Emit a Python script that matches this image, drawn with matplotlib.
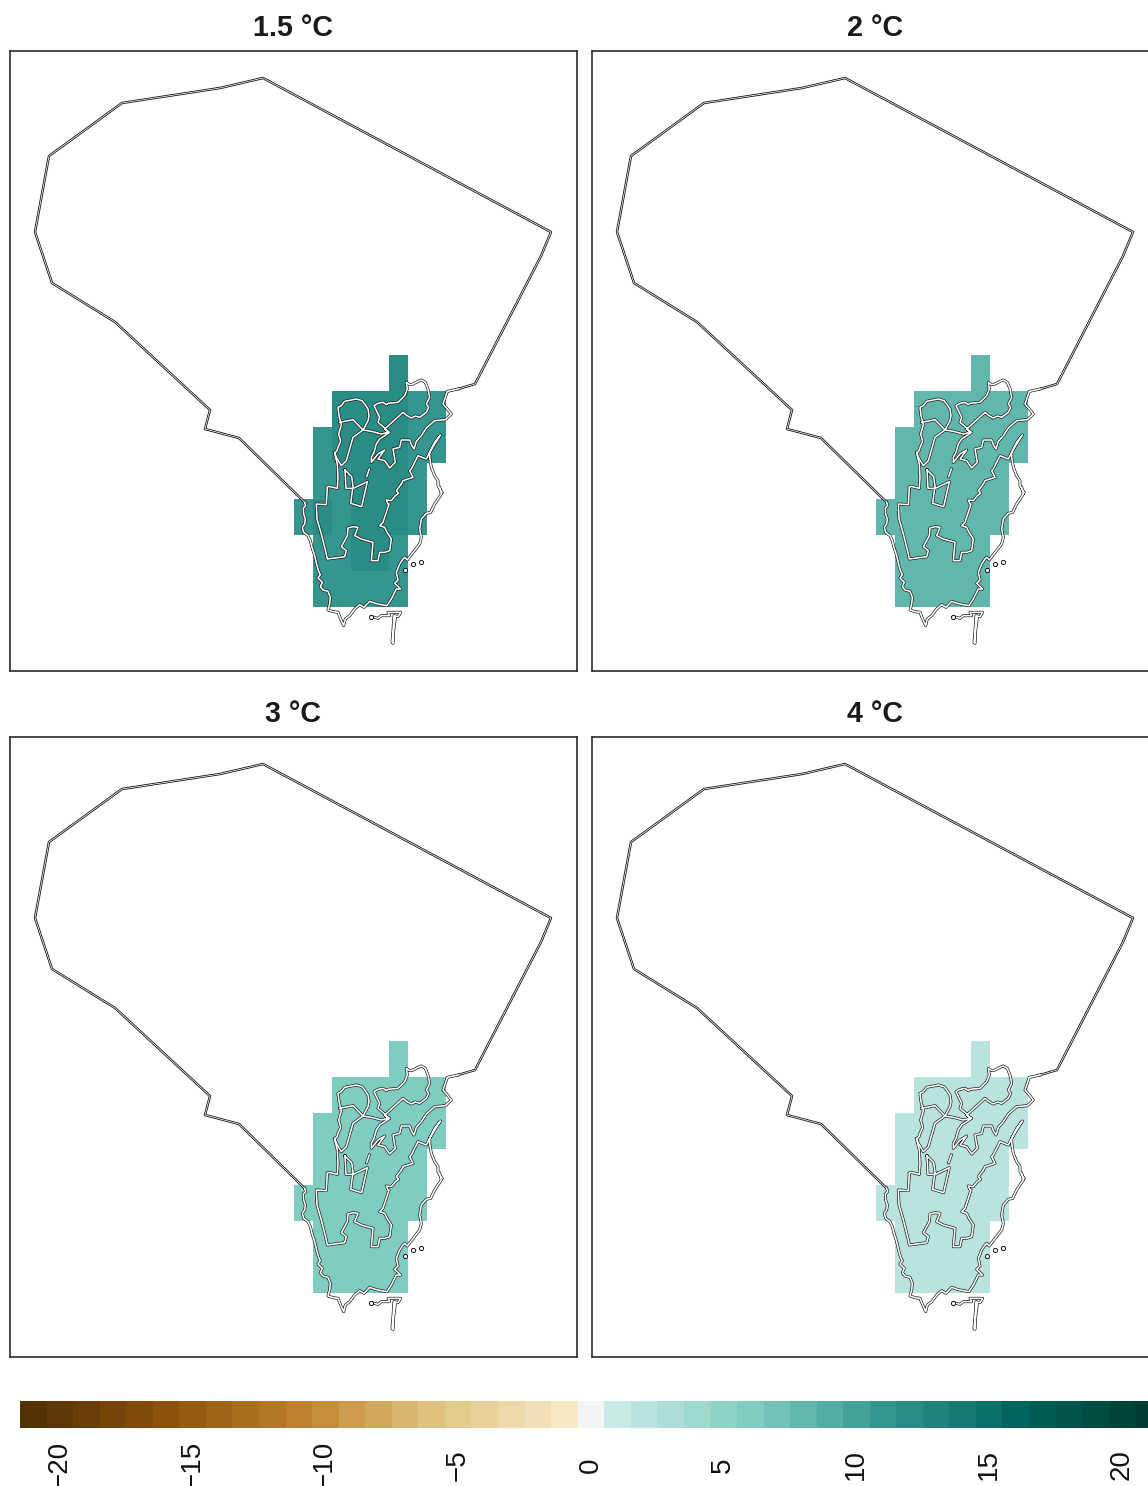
import numpy as np
import matplotlib
matplotlib.use("Agg")
import matplotlib.pyplot as plt
from matplotlib.colors import LinearSegmentedColormap, Normalize
from matplotlib.transforms import ScaledTranslation

plt.rcParams['font.family'] = ['Liberation Sans', 'DejaVu Sans']

W, H = 1148, 1486
titles = ["1.5 °C", "2 °C", "3 °C", "4 °C"]

# colour scale
stop_values = [-21, -16, -11, -6, -1, 0, 1, 6, 11, 16, 21]
stop_colors = ["#543005", "#8C510A", "#BF812D", "#DFC27D", "#F6E8C3", "#F5F5F5",
               "#C7EAE5", "#80CDC1", "#35978F", "#01665E", "#003C30"]
legend_values = list(range(-21, 22))
legend_ticks = [-20, -15, -10, -5, 0, 5, 10, 15, 20]
legend_labels = ["−20", "−15", "−10", "−5", "0", "5", "10", "15", "20"]

# grid (map units)
col_edges = [42, 99, 156, 213, 270, 327, 384, 441, 498]
row_edges = [45, 153, 261, 369, 477, 585, 693, 801]
n = np.nan
grid_15 = [[n, n, n, n, n, 12, n, n],
           [n, n, 12, 12, 12, 12, 11, 11],
           [n, 11, 12, 12, 12, 12, 11, 11],
           [n, 11, 11, 12, 12, 12, 11, n],
           [11, 12, 11, 12, 12, 12, 11, n],
           [n, 11, 11, 12, 12, 11, n, n],
           [n, 11, 11, 11, 11, 11, n, n]]
grid_2 = [[n, n, n, n, n, 8, n, n],
          [n, n, 8, 8, 8, 8, 8, 8],
          [n, 8, 8, 8, 8, 8, 8, 8],
          [n, 8, 8, 8, 8, 8, 8, n],
          [8, 8, 8, 8, 8, 8, 8, n],
          [n, 8, 8, 8, 8, 8, n, n],
          [n, 8, 8, 8, 8, 8, n, n]]
grid_3 = [[n, n, n, n, n, 6, n, n],
          [n, n, 6, 6, 6, 6, 6, 6],
          [n, 6, 6, 6, 6, 6, 6, 6],
          [n, 6, 6, 6, 6, 6, 6, n],
          [6, 6, 6, 6, 6, 6, 6, n],
          [n, 6, 6, 6, 6, 6, n, n],
          [n, 6, 6, 6, 6, 6, n, n]]
grid_4 = [[n, n, n, n, n, 2, n, n],
          [n, n, 2, 2, 2, 2, 2, 2],
          [n, 2, 2, 2, 2, 2, 2, 2],
          [n, 2, 2, 2, 2, 2, 2, n],
          [2, 2, 2, 2, 2, 2, 2, n],
          [n, 2, 2, 2, 2, 2, n, n],
          [n, 2, 2, 2, 2, 2, n, n]]
grids = [grid_15, grid_2, grid_3, grid_4]

# outlines (map units)
outer = [(74, 487), (-123, 294), (-225, 267), (-210, 210), (-495, -54), (-684, -171),
         (-735, -324), (-693, -552), (-474, -711), (-180, -756), (-51, -786),
         (813, -324), (783, -252), (585, 132), (534, 147)]
z4_inner = [(118, 400), (122, 397), (148, 403), (150, 370), (148, 330), (140, 298), (147, 290),
            (150, 280), (158, 262), (152, 240), (160, 212), (153, 185),
            (150, 160), (160, 155), (170, 142), (190, 138), (205, 135), (222, 140), (230, 150),
            (240, 165), (243, 185), (240, 200),
            (225, 228), (250, 232), (280, 240), (300, 235), (290, 222), (270, 205), (275, 190), (258, 155),
            (270, 148), (285, 145), (295, 152), (300, 148), (330, 145), (350, 125), (358, 105), (355, 85), (365, 92), (375, 90),
            (390, 82), (400, 78), (412, 85), (420, 105), (425, 130), (415, 150), (422, 160), (415, 175), (395, 190), (382, 186), (370, 192),
            (357, 185), (345, 175), (320, 198), (290, 225), (305, 235), (275, 255), (265, 270), (258, 295), (250, 310),
            (250, 325), (262, 310), (270, 300), (290, 288), (270, 315), (290, 320), (305, 342),
            (322, 325), (315, 285), (335, 280), (340, 258), (365, 258), (370, 272), (378, 285), (385, 262), (400, 245), (415, 222),
            (440, 200), (472, 197), (490, 180), (478, 165), (465, 150), (478, 112), (510, 105)]
z5_inner = [(340, 0), (325, 20), (332, 28), (322, 35), (310, 50), (295, 48), (300, 60), (303, 60), (295, 85),
            (285, 115), (275, 125), (290, 130), (297, 145), (310, 165), (305, 200),
            (290, 205), (275, 205), (270, 230), (250, 230), (255, 175), (220, 165),
            (200, 155), (210, 130), (195, 128), (180, 132), (178, 155), (160, 188), (175, 200),
            (170, 218), (118, 225), (115, 210), (100, 150), (87, 105), (85, 60),
            (115, 62), (118, 10)]
z5_coast = [(50, 55), (53, 65), (46, 72), (47, 90), (52, 105), (50, 120), (43, 130),
            (47, 145), (60, 155), (67, 170), (72, 190), (80, 215), (87, 245), (92, 262),
            (97, 272), (90, 282), (103, 295), (97, 308), (105, 318), (120, 322),
            (127, 340), (125, 360), (120, 378), (135, 383), (150, 385), (158, 405),
            (167, 425), (172, 405), (185, 395), (200, 375), (215, 362), (228, 370),
            (245, 352), (262, 358), (280, 362), (297, 365), (310, 345), (325, 315),
            (338, 315), (320, 298), (330, 288), (325, 265), (335, 240), (345, 225),
            (350, 220), (358, 228), (370, 212), (395, 180), (400, 160), (395, 135),
            (400, 105), (415, 88), (428, 85), (440, 60), (460, 30), (455, 10)]
z4_coast = [(462, 415), (450, 395), (450, 380), (440, 365), (430, 340), (425, 310), (425, 295),
            (440, 270), (457, 243), (440, 265), (425, 295), (415, 315), (390, 305),
            (370, 345), (365, 350), (375, 370), (345, 380), (340, 390)]
z4_branch = [(155, 205), (195, 197), (225, 228), (195, 250), (175, 320), (160, 335),
             (145, 310), (140, 295)]
lake = [(195, 390), (215, 410), (220, 445), (262, 425), (245, 500), (212, 490),
        (218, 445), (198, 445), (195, 390)]
dash = [(268, 387), (260, 410)]
z5_south = [(250, 398), (270, 403), (280, 395), (305, 395), (300, 385), (325, 385),
            (338, 385), (330, 398), (318, 395), (315, 440), (312, 475), (315, 478),
            (317, 440), (322, 400)]
z5_dots = [(375, 240), (398, 233), (352, 258), (250, 398)]


def from_z4(points):
    return [(x + 24, y + 42) for x, y in points]


def from_z5(points):
    return [(x + 24, y + 432) for x, y in points]


paths = [outer, from_z4(z4_inner), from_z5(z5_inner), from_z5(z5_coast), from_z4(z4_coast),
         from_z4(z4_branch), lake, dash, from_z5(z5_south)]

cmap = LinearSegmentedColormap.from_list(
    "brbg", [((v + 21) / 42, c) for v, c in zip(stop_values, stop_colors)], N=512)
norm = Normalize(-21, 21)


def axes_px(x0, y0, x1, y1):
    return fig.add_axes([x0 / W, 1 - y1 / H, (x1 - x0) / W, (y1 - y0) / H])


fig = plt.figure(figsize=(W / 100, H / 100), dpi=100, facecolor="white")
positions = [(10, 51), (592, 51), (10, 737), (592, 737)]
for (px, py), title, grid in zip(positions, titles, grids):
    ax = axes_px(px, py, px + 567, py + 620)
    ax.pcolormesh(col_edges, row_edges, np.array(grid, float), cmap=cmap, norm=norm,
                  edgecolors="none", antialiased=False)
    for i, path in enumerate(paths):
        xs, ys = zip(*path)
        ax.plot(xs, ys, color="#111111", lw=1.75 if i == 0 else 2.1, solid_joinstyle="round", zorder=3)
    for i, path in enumerate(paths):
        xs, ys = zip(*path)
        ax.plot(xs, ys, color="white", lw=0.55 if i == 0 else 1.15, solid_joinstyle="round", zorder=4)
    dx, dy = zip(*from_z5(z5_dots))
    ax.plot(dx, dy, ls="none", marker="o", ms=3.0, mfc="white", mec="#111111", mew=0.7, zorder=5)
    ax.set_xlim(-810, 891)
    ax.set_ylim(993, -867)
    ax.set_xticks([])
    ax.set_yticks([])
    for s in ax.spines.values():
        s.set_linewidth(1.2)
        s.set_color("#2b2b2b")
    fig.text((px + 283) / W, 1 - (py - 23.5) / H, title, ha="center", va="center",
             fontsize=20.7, fontweight="bold", color="#1a1a1a")

cax = axes_px(20, 1401, 1148, 1428)
edges = [v - 0.43 for v in legend_values] + [legend_values[-1] + 0.57]
cax.pcolormesh(edges, [0, 1], np.array([legend_values], float), cmap=cmap, norm=norm,
               edgecolors="none", antialiased=False)
cax.set_xlim(-21.43, 21.05)
cax.set_ylim(0, 1)
cax.set_yticks([])
cax.set_xticks(legend_ticks)
cax.set_xticklabels(legend_labels, rotation=90, va="center", ha="center",
                    fontsize=20, color="#111111")
cax.tick_params(axis="x", length=0, pad=26.5)
for lab in cax.get_xticklabels():
    lab.set_transform(lab.get_transform() + ScaledTranslation(1.5 / 100, 0, fig.dpi_scale_trans))
for s in cax.spines.values():
    s.set_visible(False)

fig.savefig("out.png", dpi=100, facecolor="white")
